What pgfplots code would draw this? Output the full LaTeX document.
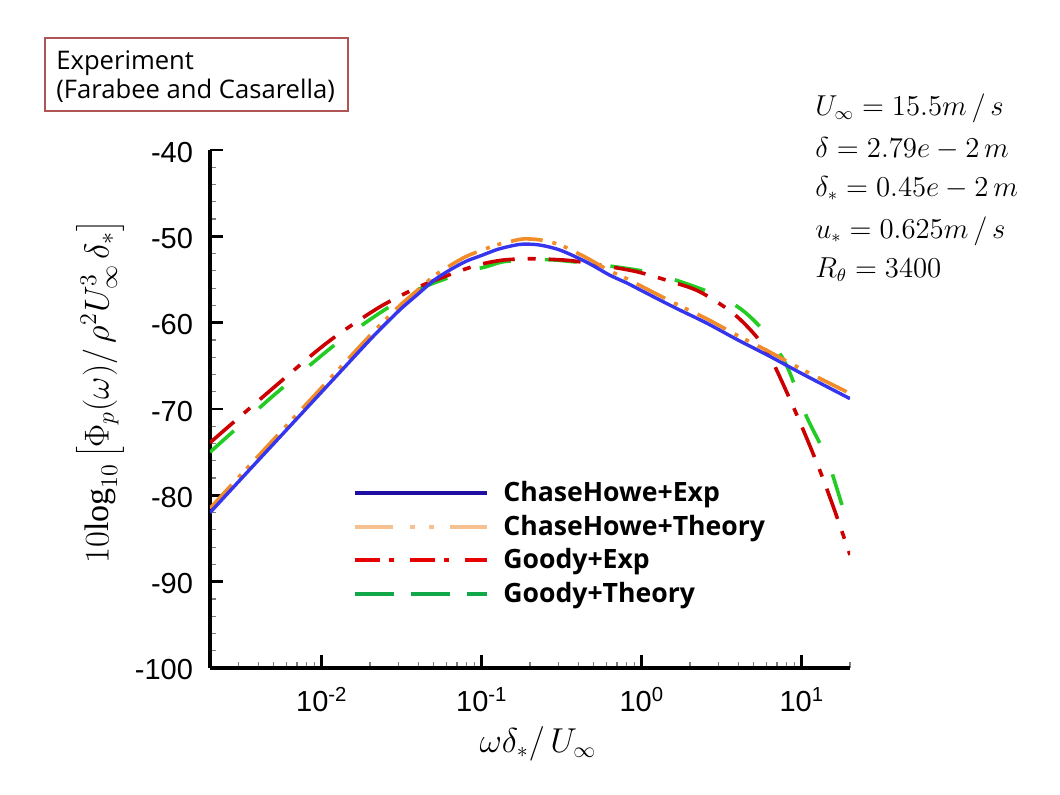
\documentclass[border=0pt]{standalone}
\usepackage{pgfplots}
\pgfplotsset{compat=1.18}
\usepackage{fontspec}
\setmainfont{Liberation Serif}
\newfontfamily\arial{Liberation Sans}
\newfontfamily\gothic{Open Sans}
\definecolor{pblue}{HTML}{3535EE}
\definecolor{porange}{HTML}{F28C28}
\definecolor{pred}{HTML}{CC0000}
\definecolor{pgreen}{HTML}{22CC22}
\definecolor{lblue}{HTML}{1E0FA0}
\definecolor{lorange}{HTML}{F5C191}
\definecolor{lred}{HTML}{E60000}
\definecolor{lgreen}{HTML}{10A848}
\definecolor{boxred}{HTML}{B05555}

\pgfplotstableread{
x y
0.002 -82.0
0.003162 -78.0
0.005012 -74.0
0.007943 -70.0
0.012589 -66.0
0.019953 -62.0
0.025119 -60.1
0.031623 -58.3
0.039811 -56.7
0.050119 -55.1
0.063096 -53.9
0.079433 -52.9
0.1 -52.2
0.12589 -51.5
0.15849 -51.05
0.18197 -50.9
0.22909 -51.0
0.30903 -51.6
0.45290 -53.0
0.63096 -54.5
0.80538 -55.4
1 -56.3
1.5849 -58.2
2.5119 -60.0
3.9811 -62.0
6.3096 -63.9
10 -65.9
20 -68.8
}\chexp

\pgfplotstableread{
x y
0.002 -81.5
0.003162 -77.5
0.005012 -73.5
0.007943 -69.5
0.012589 -65.5
0.019953 -61.5
0.025119 -59.6
0.031623 -57.8
0.039811 -56.2
0.050119 -54.6
0.063096 -53.4
0.079433 -52.35
0.1 -51.6
0.12589 -50.95
0.15849 -50.5
0.18197 -50.3
0.22909 -50.4
0.30903 -51.0
0.45290 -52.5
0.63096 -54.0
0.80538 -54.9
1 -55.8
1.5849 -57.7
2.5119 -59.5
3.9811 -61.5
6.3096 -63.4
10 -65.4
20 -68.2
}\chtheory

\pgfplotstableread{
x y
0.002 -73.9
0.003162 -70.7
0.005012 -67.5
0.008710 -63.7
0.012589 -61.4
0.022909 -58.2
0.039811 -55.9
0.061660 -54.5
0.081283 -53.7
0.1 -53.2
0.12882 -52.8
0.15849 -52.65
0.21380 -52.6
0.35481 -52.8
0.57544 -53.4
0.93325 -54.1
1.4962 -55.2
2.2909 -56.4
3.7154 -58.9
5.2481 -61.7
6.4565 -64.3
7.5858 -67.0
9.7724 -71.6
12.882 -77.0
15.849 -81.5
20 -86.9
}\goexp

\pgfplotstableread{
x y
0.002 -75.0
0.003162 -71.7
0.005012 -68.4
0.008710 -64.7
0.012589 -62.3
0.022909 -58.9
0.039811 -56.2
0.061660 -54.8
0.079433 -54.1
0.10715 -53.5
0.14125 -52.9
0.25119 -52.7
0.35481 -52.9
0.50119 -53.2
1 -54.0
1.5849 -55.0
2.7542 -56.6
4.0738 -58.3
5.4954 -60.5
7.2444 -63.5
8.4140 -65.8
10.715 -70.9
14.454 -75.9
19.055 -82.9
20 -84.0
}\gotheory

\begin{document}
\begin{tikzpicture}
\path[use as bounding box] (0pt,0pt) rectangle (530pt,-397pt);
\begin{axis}[
  at={(105pt,-334pt)}, anchor=south west,
  width=320pt, height=259pt, scale only axis,
  xmode=log, xmin=0.002, xmax=20,
  ymin=-100, ymax=-40,
  axis lines*=left,
  axis line style={line width=2pt, black},
  tick align=inside,
  major tick length=6.5pt, minor tick length=3pt,
  every major tick/.style={line width=1.4pt, black},
  every minor tick/.style={line width=0.6pt, gray},
  xtick={0.01,0.1,1,10},
  xticklabels={10\textsuperscript{-2},10\textsuperscript{-1},10\textsuperscript{0},10\textsuperscript{1}},
  minor xtick={0.003,0.004,0.005,0.006,0.007,0.008,0.009,0.02,0.03,0.04,0.05,0.06,0.07,0.08,0.09,0.2,0.3,0.4,0.5,0.6,0.7,0.8,0.9,2,3,4,5,6,7,8,9,20},
  ytick={-100,-90,-80,-70,-60,-50,-40},
  yticklabels={-100,-90,-80,-70,-60,-50,-40},
  minor y tick num=4,
  ticklabel style={font=\arial\fontsize{14.5}{17}\selectfont},
  yticklabel style={xshift=-5pt, yshift=-1pt},
  xticklabel style={yshift=-6pt},
  legend image code/.code={\draw[#1] (0pt,0pt) -- (66pt,0pt); \path (71pt,0pt);},
  legend style={at={(0.214,0.377)}, anchor=north west, draw=none, fill=none,
    font=\gothic\bfseries\fontsize{13.3}{15}\selectfont, row sep=1.3pt},
  legend cell align=left,
]
\addlegendimage{lblue, line width=2pt}
\addlegendentry{ChaseHowe+Exp}
\addlegendimage{lorange, line width=2pt, dash pattern=on 19pt off 8.5pt on 2.5pt off 7pt on 2.5pt off 8pt}
\addlegendentry{ChaseHowe+Theory}
\addlegendimage{lred, line width=2pt, dash pattern=on 12.5pt off 4.5pt on 2.5pt off 8pt}
\addlegendentry{Goody+Exp}
\addlegendimage{lgreen, line width=2pt, dash pattern=on 19.5pt off 8.5pt}
\addlegendentry{Goody+Theory}

\addplot[forget plot, smooth, pgreen, line width=1.8pt, dash pattern=on 16pt off 17pt] table {\gotheory};
\addplot[forget plot, smooth, pred, line width=1.8pt, dash pattern=on 16pt off 6.5pt on 4pt off 6.5pt] table {\goexp};
\addplot[forget plot, smooth, porange, line width=1.8pt, dash pattern=on 16pt off 5pt on 2pt off 4pt on 2pt off 5pt] table {\chtheory};
\addplot[forget plot, smooth, pblue, line width=1.7pt] table {\chexp};
\end{axis}

% y label
\node[rotate=90, font=\fontsize{17}{19}\selectfont] at (50pt,-196pt)
  {$10\mathrm{log}_{10}\left[\vrule height 14pt depth 7pt width 0pt\Phi_p(\omega)/\,\rho^2U_\infty^3\,\delta_*\right]$};
% x label
\node[font=\fontsize{16}{18}\selectfont] at (269pt,-372pt)
  {$\omega\delta_*/\,U_\infty$};

% annotation
\begin{scope}[every node/.style={anchor=base west, inner sep=0pt, font=\fontsize{13.5}{15}\selectfont}]
\node at (407.5pt,-57.75pt) {$U_\infty = 15.5m\,/\,s$};
\node at (407.5pt,-78.75pt) {$\delta = 2.79e - 2\,m$};
\node at (407.5pt,-98.25pt) {$\delta_* = 0.45e - 2\,m$};
\node at (407.5pt,-119.25pt) {$u_* = 0.625m\,/\,s$};
\node at (407.5pt,-138.75pt) {$R_\theta = 3400$};
\end{scope}

% experiment box
\draw[boxred, line width=1pt] (22.5pt,-19pt) rectangle (174pt,-55.5pt);
\node[anchor=base west, inner sep=0pt, font=\gothic\fontsize{12.8}{14}\selectfont] at (28pt,-34.6pt) {Experiment};
\node[anchor=base west, inner sep=0pt, font=\gothic\fontsize{12.8}{14}\selectfont] at (28pt,-49pt) {(Farabee and Casarella)};
\end{tikzpicture}
\end{document}
